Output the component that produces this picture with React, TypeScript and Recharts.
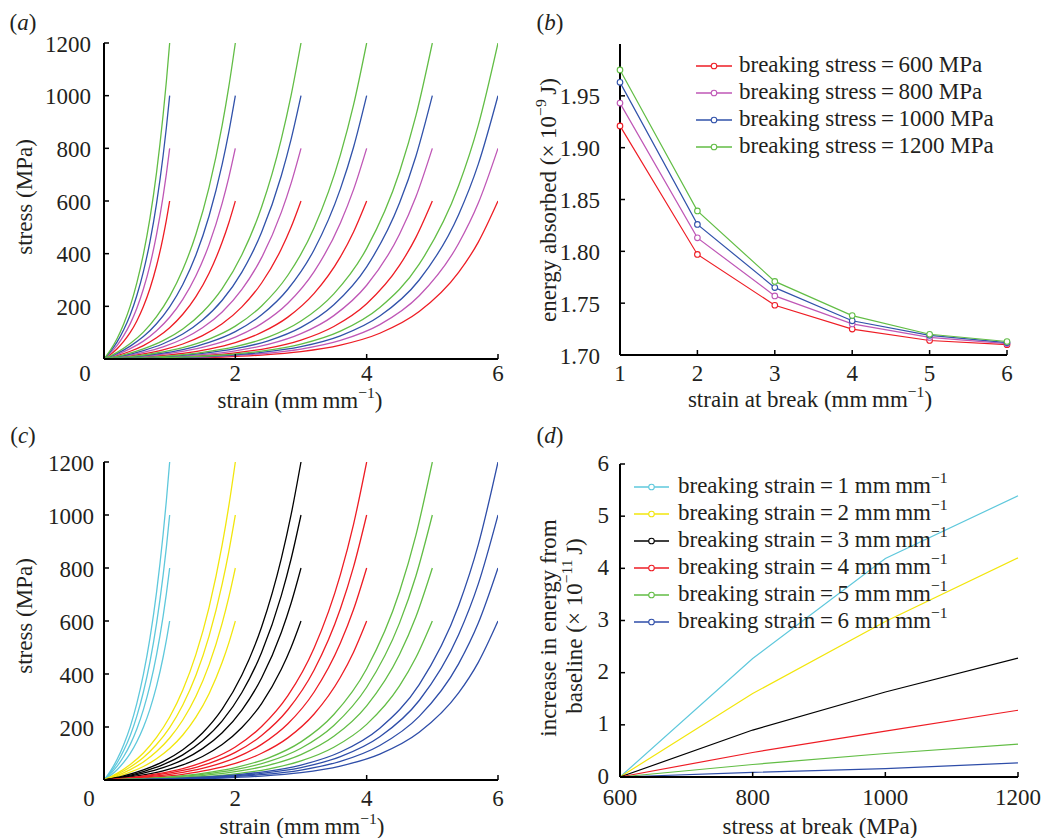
import React from 'react';
import { LineChart, Line, XAxis, YAxis } from 'recharts';

const FONT = "'Liberation Serif', 'Times New Roman', Times, serif";
const FS = 23;
const INK = '#231f20';

// ---------- panels (a) and (c): stress-strain curves ----------
const breakingStrains = [1, 2, 3, 4, 5, 6];
const breakingStresses = [600, 800, 1000, 1200];
// fraction of the breaking strain at which each profile value is read
const profileFractionOfStrain = [0, 0.1, 0.2, 0.3, 0.4, 0.5, 0.6, 0.7, 0.8, 0.9, 0.95, 1];
const profileStrain1 = [0, 0.029, 0.065, 0.111, 0.168, 0.241, 0.332, 0.446, 0.59, 0.772, 0.879, 1];
const profileStrain2 = [0, 0.021, 0.049, 0.085, 0.134, 0.198, 0.283, 0.395, 0.543, 0.74, 0.861, 1];
const profileStrain3 = [0, 0.013, 0.032, 0.058, 0.095, 0.148, 0.223, 0.33, 0.481, 0.696, 0.835, 1];
const profileStrain4 = [0, 0.0074, 0.019, 0.036, 0.063, 0.104, 0.168, 0.265, 0.415, 0.646, 0.804, 1];
const profileStrain5 = [0, 0.0038, 0.01, 0.021, 0.039, 0.069, 0.12, 0.206, 0.35, 0.592, 0.77, 1];
const profileStrain6 = [0, 0.002, 0.0058, 0.0126, 0.025, 0.047, 0.088, 0.163, 0.3, 0.548, 0.74, 1];
const strainProfiles = [profileStrain1, profileStrain2, profileStrain3, profileStrain4, profileStrain5, profileStrain6];

const stressColors = ['#ee1c24', '#bf57b6', '#3152aa', '#62bd45'];
const strainColors = ['#5ec8dc', '#f2e60c', '#000000', '#ee1c24', '#62bd45', '#2e4da8'];
const stressAxisTicks = [200, 400, 600, 800, 1000, 1200];
const strainAxisTicks = [0, 2, 4, 6];

// ---------- panel (b): energy absorbed ----------
const strainAtBreak = [1, 2, 3, 4, 5, 6];
const energy600 = [1.921, 1.797, 1.748, 1.725, 1.714, 1.71];
const energy800 = [1.943, 1.813, 1.757, 1.73, 1.717, 1.711];
const energy1000 = [1.963, 1.826, 1.765, 1.733, 1.719, 1.712];
const energy1200 = [1.975, 1.839, 1.771, 1.738, 1.72, 1.713];
const energySeries = [energy600, energy800, energy1000, energy1200];
const energyTicks = [1.7, 1.75, 1.8, 1.85, 1.9, 1.95];

// ---------- panel (d): increase in energy ----------
const stressAtBreak = [600, 800, 1000, 1200];
const increaseStrain1 = [0, 2.27, 4.19, 5.39];
const increaseStrain2 = [0, 1.6, 2.98, 4.2];
const increaseStrain3 = [0, 0.9, 1.63, 2.28];
const increaseStrain4 = [0, 0.47, 0.88, 1.28];
const increaseStrain5 = [0, 0.24, 0.45, 0.63];
const increaseStrain6 = [0, 0.09, 0.16, 0.27];
const increaseSeries = [increaseStrain1, increaseStrain2, increaseStrain3, increaseStrain4, increaseStrain5, increaseStrain6];
const increaseTicks = [0, 1, 2, 3, 4, 5, 6];

// ---------- derived tables ----------
const curves = breakingStrains.flatMap((s, i) =>
  breakingStresses.map((sig, j) => ({
    key: `c${i}-${j}`,
    si: i,
    sj: j,
    data: profileFractionOfStrain.map((t, k) => ({ x: s * t, y: sig * strainProfiles[i][k] })),
  }))
);
const energyTable = strainAtBreak.map((x, k) => {
  const row: any = { x };
  energySeries.forEach((arr, j) => (row[`e${j}`] = arr[k]));
  return row;
});
const increaseTable = stressAtBreak.map((x, k) => {
  const row: any = { x };
  increaseSeries.forEach((arr, j) => (row[`s${j}`] = arr[k]));
  return row;
});

// ---------- helpers ----------
const makeYTick = (axisX: number, gap: number, fmt: (v: number) => string, dy = 1) => (props: any) => {
  const { y, payload } = props;
  return (
    <g>
      <line x1={axisX} x2={axisX + 5} y1={y} y2={y} stroke="#000" strokeWidth={1.5} />
      <text x={axisX - gap} y={y + dy} textAnchor="end" dominantBaseline="central" fontFamily={FONT} fontSize={FS} fill={INK}>
        {fmt(payload.value)}
      </text>
    </g>
  );
};
const makeXTick = (axisY: number, offset: number, zeroDx: number, zeroValue: number) => (props: any) => {
  const { x, payload } = props;
  const first = payload.value === zeroValue;
  return (
    <g>
      {!first && <line x1={x} x2={x} y1={axisY} y2={axisY - 5} stroke="#000" strokeWidth={1.5} />}
      <text x={x + (first ? zeroDx : 0)} y={axisY + offset} textAnchor="middle" dominantBaseline="central" fontFamily={FONT} fontSize={FS} fill={INK}>
        {payload.value}
      </text>
    </g>
  );
};

const Sup = ({ children }: any) => (
  <span style={{ fontSize: '0.68em', position: 'relative', top: '-0.62em' }}>{children}</span>
);

const Txt = ({ x, y, rotate, children, italic }: any) => (
  <div
    style={{
      position: 'absolute',
      left: x,
      top: y,
      transform: `translate(-50%, -50%)${rotate ? ' rotate(-90deg)' : ''}`,
      whiteSpace: 'nowrap',
      fontFamily: FONT,
      fontSize: FS,
      lineHeight: 1,
      color: INK,
      fontStyle: italic ? 'italic' : 'normal',
    }}
  >
    {children}
  </div>
);

const PanelTag = ({ x, y, letter }: any) => (
  <Txt x={x} y={y}>
    (<i>{letter}</i>)
  </Txt>
);

const LegendRows = ({ left, top, gap, lineLen, textLeft, items }: any) => (
  <>
    {items.map((it: any, i: number) => (
      <React.Fragment key={i}>
        <svg style={{ position: 'absolute', left, top: top + i * gap - 6 }} width={lineLen} height={12}>
          <line x1={0} x2={lineLen} y1={6} y2={6} stroke={it.color} strokeWidth={1.3} />
          <circle cx={lineLen / 2} cy={6} r={2.8} fill="#fff" stroke={it.color} strokeWidth={1.1} />
        </svg>
        <div
          style={{
            position: 'absolute',
            left: textLeft,
            top: top + i * gap - 2.5,
            transform: 'translateY(-50%)',
            whiteSpace: 'nowrap',
            fontFamily: FONT,
            fontSize: FS,
            lineHeight: 1,
            color: INK,
          }}
        >
          {it.label}
        </div>
      </React.Fragment>
    ))}
  </>
);

const AX = { stroke: '#000', strokeWidth: 2 };

function StressStrainChart({ colorOf, margin, zeroDx, xOffset, yGap }: any) {
  const w = 520;
  const h = 420;
  const axisX = margin.left + 1;
  const axisY = h - margin.bottom - 1;
  return (
    <LineChart width={w} height={h} margin={margin}>
      <XAxis
        type="number"
        dataKey="x"
        domain={[0, 6]}
        ticks={strainAxisTicks}
        height={1}
        tickSize={0}
        tickLine={false}
        axisLine={AX}
        tick={makeXTick(axisY, xOffset, zeroDx, 0)}
        interval={0}
        allowDataOverflow
      />
      <YAxis
        type="number"
        domain={[0, 1200]}
        ticks={stressAxisTicks}
        width={1}
        tickSize={0}
        tickLine={false}
        axisLine={AX}
        tick={makeYTick(axisX, yGap, (v) => String(v))}
        interval={0}
        allowDataOverflow
      />
      {curves.map((c) => (
        <Line
          key={c.key}
          data={c.data}
          dataKey="y"
          type="monotone"
          stroke={colorOf(c)}
          strokeWidth={1.3}
          dot={false}
          isAnimationActive={false}
        />
      ))}
    </LineChart>
  );
}

export default function App() {
  // margins: plot area edges minus the 1px axis band
  const marginA = { top: 43, right: 22, bottom: 60, left: 103 };
  const marginC = { top: 42, right: 22, bottom: 59, left: 103 };
  const marginB = { top: 44, right: 54, bottom: 64, left: 99 };
  const marginD = { top: 44, right: 43, bottom: 60, left: 99 };

  return (
    <div style={{ position: 'absolute', left: 0, top: 0, width: 1061, height: 838, background: '#fff', overflow: 'hidden' }}>
      {/* (a) */}
      <div style={{ position: 'absolute', left: 0, top: 0 }}>
        <StressStrainChart colorOf={(c: any) => stressColors[c.sj]} margin={marginA} zeroDx={-19} xOffset={14} yGap={13} />
      </div>
      {/* (c) */}
      <div style={{ position: 'absolute', left: 0, top: 420 }}>
        <StressStrainChart colorOf={(c: any) => strainColors[c.si]} margin={marginC} zeroDx={-15} xOffset={18} yGap={10} />
      </div>
      {/* (b) */}
      <div style={{ position: 'absolute', left: 520, top: 0 }}>
        <LineChart width={541} height={420} margin={marginB} data={energyTable}>
          <XAxis
            type="number"
            dataKey="x"
            domain={[1, 6]}
            ticks={strainAtBreak}
            height={1}
            tickSize={0}
            tickLine={false}
            axisLine={AX}
            interval={0}
            tick={makeXTick(420 - marginB.bottom - 1, 18, 0, -999)}
          />
          <YAxis
            type="number"
            domain={[1.7, 2.0]}
            ticks={energyTicks}
            width={1}
            tickSize={0}
            tickLine={false}
            axisLine={AX}
            interval={0}
            tick={makeYTick(marginB.left + 1, 20, (v) => v.toFixed(2))}
          />
          {energySeries.map((_, j) => (
            <Line
              key={j}
              dataKey={`e${j}`}
              type="linear"
              stroke={stressColors[j]}
              strokeWidth={1.2}
              dot={{ r: 2.8, fill: '#fff', stroke: stressColors[j], strokeWidth: 1.1 }}
              isAnimationActive={false}
            />
          ))}
        </LineChart>
      </div>
      {/* (d) */}
      <div style={{ position: 'absolute', left: 520, top: 420 }}>
        <LineChart width={541} height={418} margin={marginD} data={increaseTable}>
          <XAxis
            type="number"
            dataKey="x"
            domain={[600, 1200]}
            ticks={stressAtBreak}
            height={1}
            tickSize={0}
            tickLine={false}
            axisLine={AX}
            interval={0}
            tick={makeXTick(418 - marginD.bottom - 1, 20, 0, -999)}
          />
          <YAxis
            type="number"
            domain={[0, 6]}
            ticks={increaseTicks}
            width={1}
            tickSize={0}
            tickLine={false}
            axisLine={AX}
            interval={0}
            tick={makeYTick(marginD.left + 1, 11, (v) => String(v), -1)}
          />
          {increaseSeries.map((_, j) => (
            <Line
              key={j}
              dataKey={`s${j}`}
              type="linear"
              stroke={strainColors[j]}
              strokeWidth={1.2}
              dot={false}
              isAnimationActive={false}
            />
          ))}
        </LineChart>
      </div>

      {/* panel tags */}
      <PanelTag x={23} y={22} letter="a" />
      <PanelTag x={550} y={22} letter="b" />
      <PanelTag x={23} y={435} letter="c" />
      <PanelTag x={550} y={435} letter="d" />

      {/* axis titles */}
      <Txt x={24} y={197} rotate>stress (MPa)</Txt>
      <Txt x={300} y={400}>
        strain (mm{'\u2009'}mm<Sup>−1</Sup>)
      </Txt>
      <Txt x={548} y={200} rotate>
        energy absorbed (× 10<Sup>−9</Sup>{'\u2009'}J)
      </Txt>
      <Txt x={810} y={399}>
        strain at break (mm{'\u2009'}mm<Sup>−1</Sup>)
      </Txt>
      <Txt x={24} y={616} rotate>stress (MPa)</Txt>
      <Txt x={302} y={826}>
        strain (mm{'\u2009'}mm<Sup>−1</Sup>)
      </Txt>
      <Txt x={548} y={628} rotate>increase in energy from</Txt>
      <Txt x={574} y={626} rotate>
        baseline (× 10<Sup>−11</Sup>{'\u2009'}J)
      </Txt>
      <Txt x={820} y={826}>stress at break (MPa)</Txt>

      {/* legends */}
      <LegendRows
        left={696}
        top={66}
        gap={27}
        lineLen={36}
        textLeft={739}
        items={breakingStresses.map((s, j) => ({
          color: stressColors[j],
          label: <>breaking stress{'\u2009'}={'\u2009'}{s} MPa</>,
        }))}
      />
      <LegendRows
        left={634}
        top={487}
        gap={27}
        lineLen={35}
        textLeft={678}
        items={breakingStrains.map((s, j) => ({
          color: strainColors[j],
          label: (
            <>
              breaking strain{'\u2009'}={'\u2009'}{s} mm{'\u2009'}mm<Sup>−1</Sup>
            </>
          ),
        }))}
      />
    </div>
  );
}
